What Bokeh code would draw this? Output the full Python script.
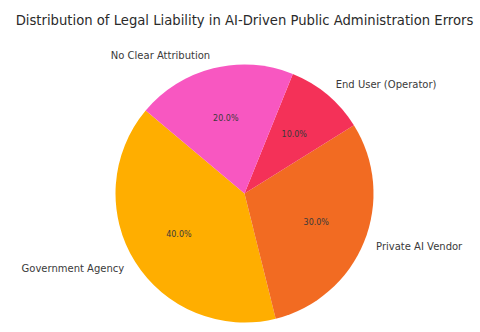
import numpy as np
from bokeh.plotting import figure
from bokeh.models import ColumnDataSource, Label, Range1d
from bokeh.core.properties import value
from bokeh.embed import file_html
from bokeh.resources import INLINE

title = "Distribution of Legal Liability in AI-Driven Public Administration Errors"
categories = ["Government Agency", "Private AI Vendor", "End User (Operator)", "No Clear Attribution"]
shares = [40, 30, 10, 20]
colors = ["#FFAE00", "#F26B22", "#F43158", "#F857C1"]

W, H = 480, 332
cx, cy, r = 244, H - 193, 129
start_deg = 140

vals = np.array(shares, dtype=float)
fr = vals / vals.sum()
ends = start_deg + np.cumsum(fr) * 360
starts = ends - fr * 360
mids = np.deg2rad((starts + ends) / 2)

src = ColumnDataSource(dict(
    start=np.deg2rad(starts), end=np.deg2rad(ends), color=colors,
))

p = figure(width=W, height=H, output_backend="svg", toolbar_location=None,
           x_range=Range1d(0, W), y_range=Range1d(0, H), min_border=0)
p.axis.visible = False
p.grid.visible = False
p.outline_line_color = None
p.background_fill_color = "white"

p.wedge(x=cx, y=cy, radius=r, start_angle="start", end_angle="end",
        fill_color="color", line_color="white", line_width=0, line_alpha=0, source=src)

lx = cx + 1.1 * r * np.cos(mids)
ly = cy + 1.1 * r * np.sin(mids)
align = ["left" if c > 0 else "right" for c in np.cos(mids)]
lab = ColumnDataSource(dict(x=lx, y=ly, t=categories, a=align))
p.text(x="x", y="y", text="t", text_align="a", text_baseline="middle",
       text_font=value("DejaVu Sans"), text_font_size="10px", text_color="#3a3a3a", source=lab)

px = cx + 0.6 * r * np.cos(mids)
py = cy + 0.6 * r * np.sin(mids)
pct = ["%.1f%%" % (f * 100) for f in fr]
pl = ColumnDataSource(dict(x=px, y=py, t=pct))
p.text(x="x", y="y", text="t", text_align="center", text_baseline="middle",
       text_font=value("DejaVu Sans"), text_font_size="8px", text_color="#3a3a3a", source=pl)

p.add_layout(Label(x=244, y=H - 20, text=title, text_align="center", text_baseline="middle",
                   text_font="DejaVu Sans", text_font_size="13.2px", text_color="#2a2a2a"))

open("out.html", "w").write(file_html(p, INLINE))
